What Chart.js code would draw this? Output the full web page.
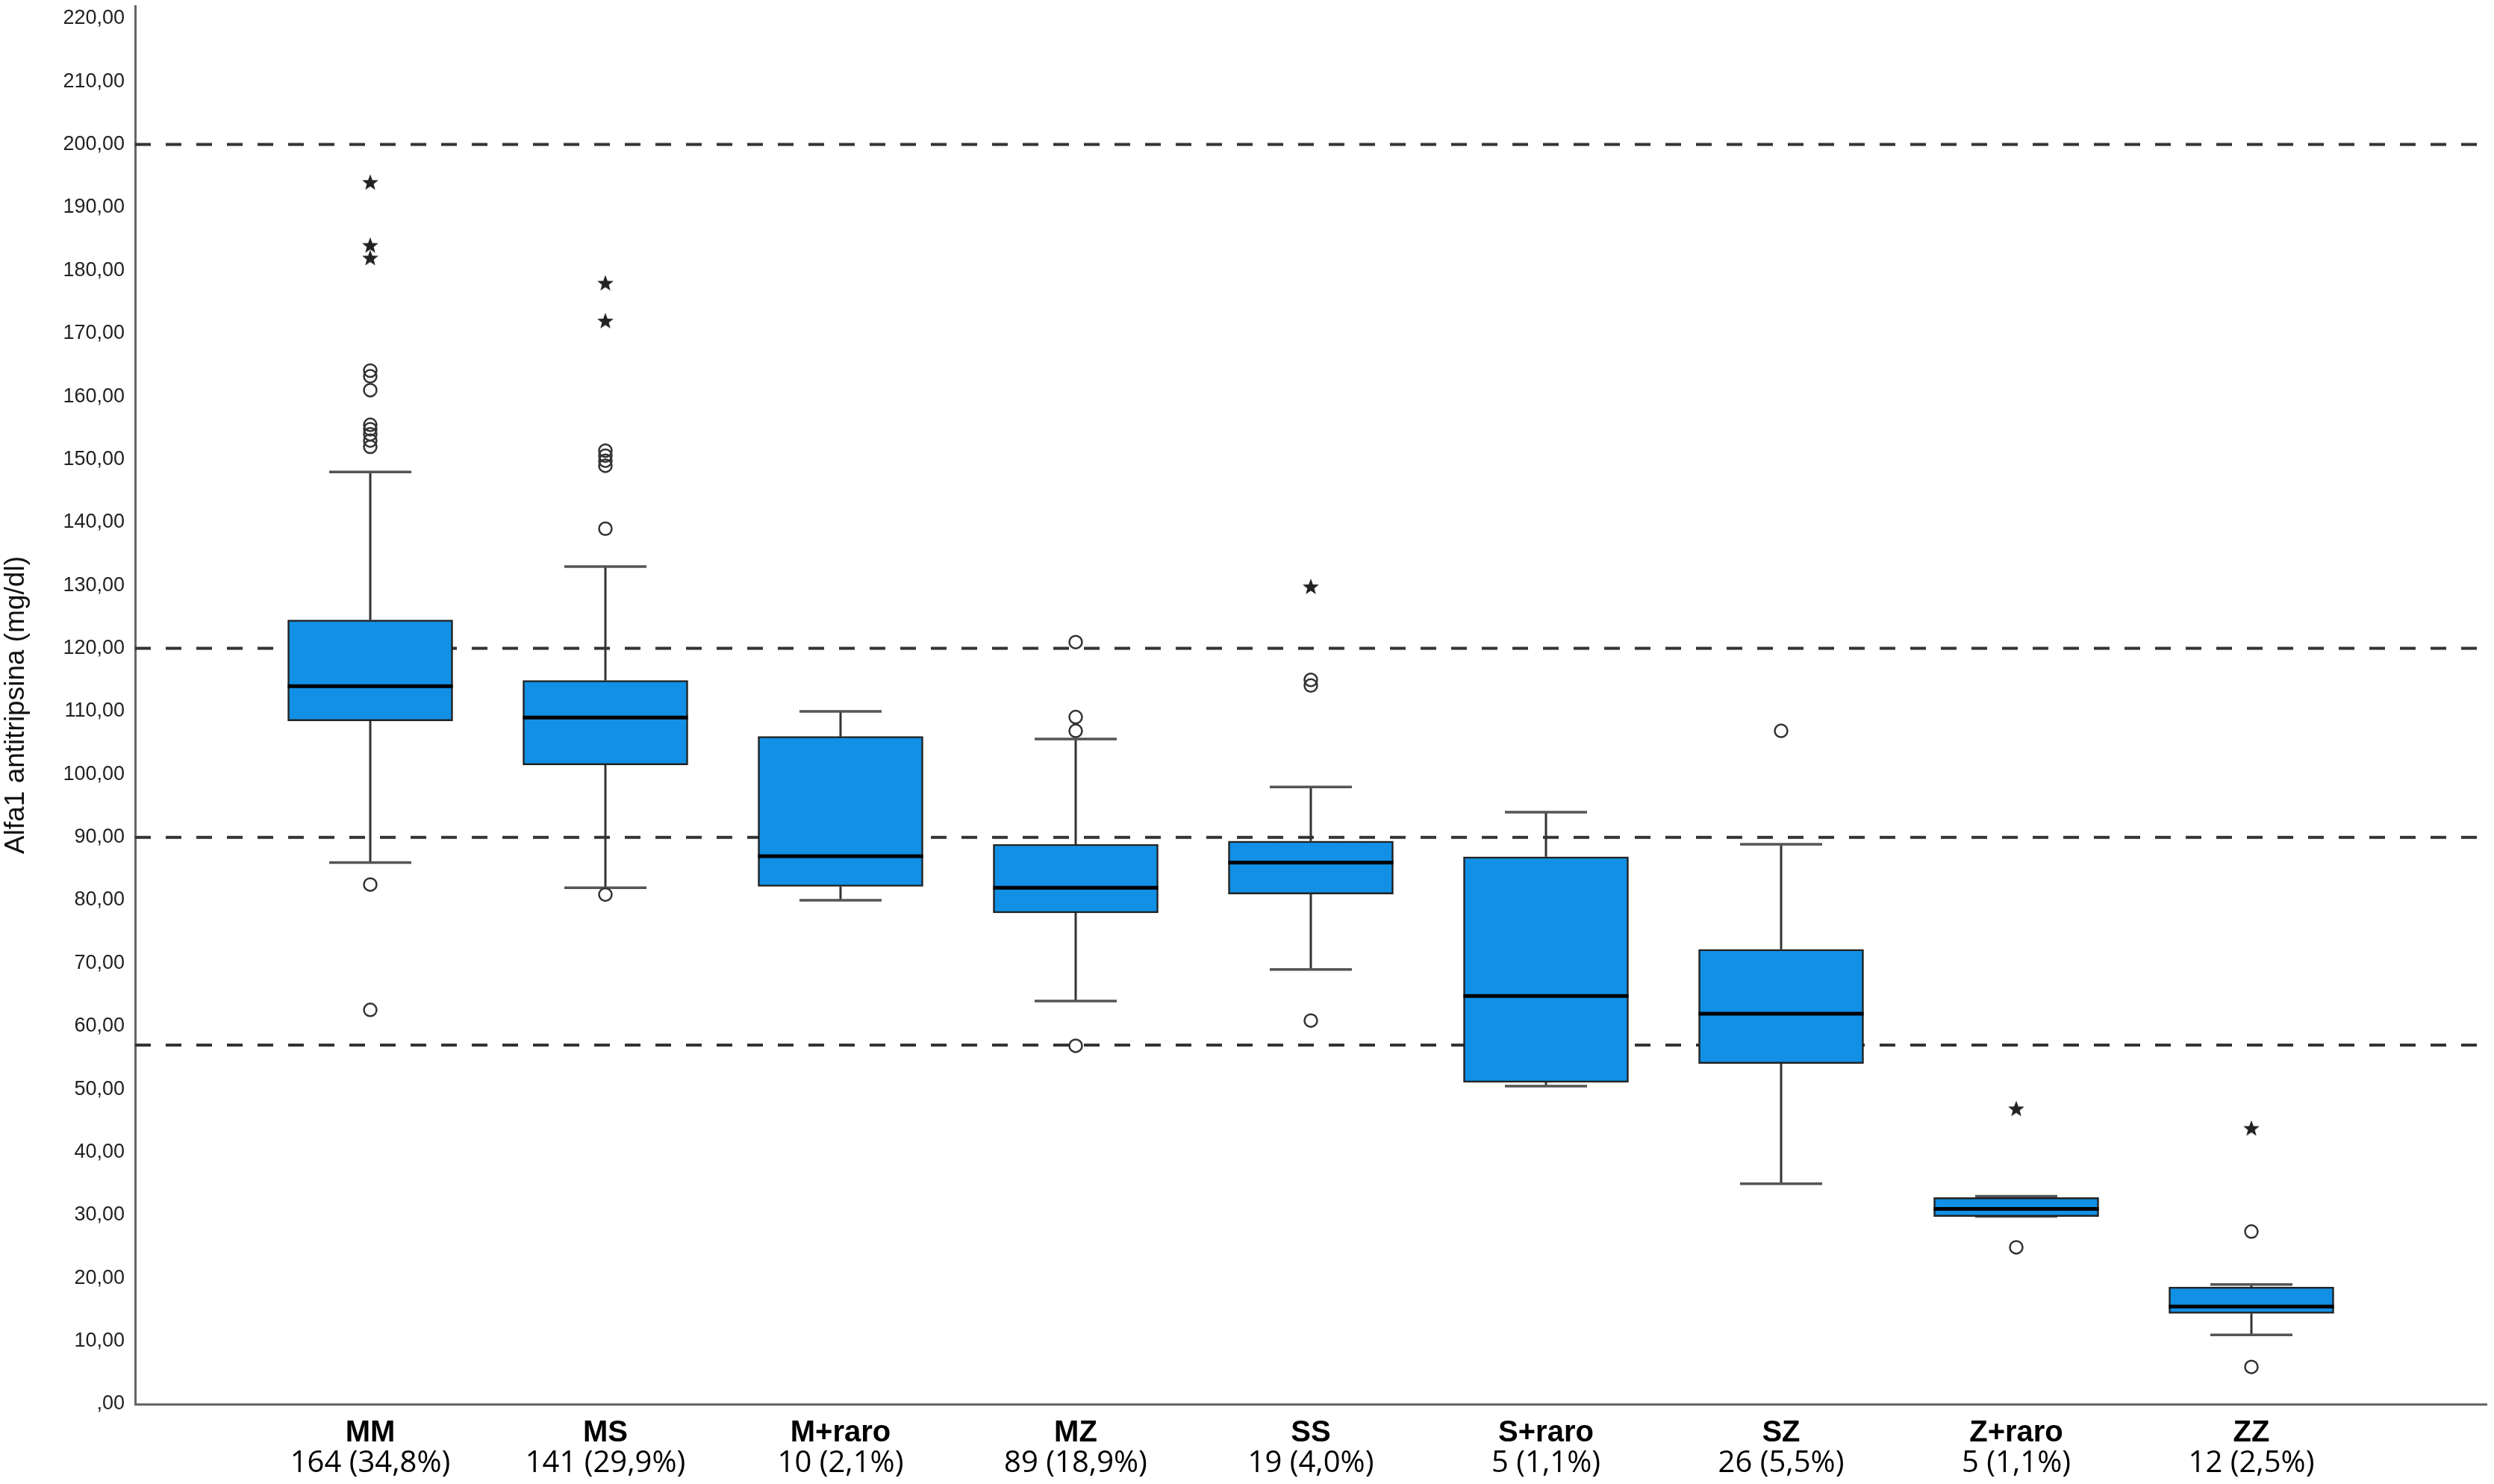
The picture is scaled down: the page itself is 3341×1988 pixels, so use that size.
<!DOCTYPE html>
<html>
<head>
<meta charset="utf-8">
<script src="https://cdn.jsdelivr.net/npm/chart.js@4.4.1/dist/chart.umd.min.js"></script>
<style>
  html, body { margin: 0; padding: 0; background: #fff; }
  #wrap { width: 3341px; height: 1988px; position: relative; }
</style>
</head>
<body>
<div id="wrap"><canvas id="c"></canvas></div>
<script>
// ---------------- DATA ----------------
const categories = ['MM', 'MS', 'M+raro', 'MZ', 'SS', 'S+raro', 'SZ', 'Z+raro', 'ZZ'];
const countLabels = ['164 (34,8%)', '141 (29,9%)', '10 (2,1%)', '89 (18,9%)', '19 (4,0%)', '5 (1,1%)', '26 (5,5%)', '5 (1,1%)', '12 (2,5%)'];
const whiskerLow  = [86.0, 82.0, 80.0, 64.0, 69.0, 50.5, 35.0, 29.8, 11.0];
const q1Values    = [108.5, 101.5, 82.2, 78.0, 81.0, 51.1, 54.1, 29.8, 14.4];
const medians     = [114.0, 109.0, 87.0, 82.0, 86.0, 64.8, 62.0, 31.0, 15.5];
const q3Values    = [124.5, 114.9, 106.0, 88.9, 89.4, 86.9, 72.2, 32.8, 18.6];
const whiskerHigh = [148.0, 133.0, 110.0, 105.6, 98.0, 94.0, 88.9, 33.0, 19.0];
const circleOutliers = [
  [164.1, 163.2, 161.0, 155.5, 154.8, 154.0, 153.0, 152.0, 82.5, 62.6],
  [151.4, 150.6, 149.8, 149.0, 139.0, 80.9],
  [],
  [121.0, 109.1, 106.9, 56.9],
  [115.0, 114.1, 60.9],
  [],
  [106.9],
  [24.9],
  [27.4, 5.9]
];
const extremeOutliers = [
  [194.0, 184.0, 182.0],
  [178.0, 172.0],
  [],
  [],
  [129.8],
  [],
  [],
  [46.9],
  [43.8]
];
const referenceLines = [57, 90, 120, 200];
const yTickLabels = [',00', '10,00', '20,00', '30,00', '40,00', '50,00', '60,00', '70,00', '80,00', '90,00',
  '100,00', '110,00', '120,00', '130,00', '140,00', '150,00', '160,00', '170,00', '180,00', '190,00',
  '200,00', '210,00', '220,00'];
const yTitle = 'Alfa1 antitripsina (mg/dl)';

// ---------------- BUILD ----------------
const nameTicks = [''].concat(categories, ['']);
const countTicks = [''].concat(countLabels, ['']);
const pos = i => i + 1;

const boxData = categories.map((c, i) => ({ x: pos(i), y: [q1Values[i], q3Values[i]] }));
const medianData = categories.map((c, i) => ({ x: pos(i), y: medians[i] }));
const capData = [];
const whiskerData = [];
categories.forEach((c, i) => {
  capData.push({ x: pos(i), y: whiskerHigh[i] }, { x: pos(i), y: whiskerLow[i] });
  whiskerData.push(
    { x: pos(i), y: whiskerHigh[i] }, { x: pos(i), y: q3Values[i] }, { x: pos(i), y: null },
    { x: pos(i), y: q1Values[i] }, { x: pos(i), y: whiskerLow[i] }, { x: pos(i), y: null }
  );
});
const circleData = [];
circleOutliers.forEach((arr, i) => arr.forEach(v => circleData.push({ x: pos(i), y: v })));
const starData = [];
extremeOutliers.forEach((arr, i) => arr.forEach(v => starData.push({ x: pos(i), y: v })));

// filled five-point star marker
const starImg = document.createElement('canvas');
starImg.width = 26; starImg.height = 26;
(function () {
  const g = starImg.getContext('2d');
  g.fillStyle = '#222';
  g.beginPath();
  for (let k = 0; k < 10; k++) {
    const r = (k % 2 === 0) ? 11.5 : 4.8;
    const a = -Math.PI / 2 + k * Math.PI / 5;
    g.lineTo(13 + r * Math.cos(a), 13.8 + r * Math.sin(a));
  }
  g.closePath();
  g.fill();
})();

const refDatasets = referenceLines.map(v => ({
  type: 'line',
  data: [{ x: 0, y: v }, { x: 10, y: v }],
  borderColor: '#333',
  borderWidth: 4,
  borderDash: [21, 20],
  pointRadius: 0,
  fill: false,
  order: 6
}));

const datasets = refDatasets.concat([
  {
    type: 'line',
    data: whiskerData,
    borderColor: '#333',
    borderWidth: 3,
    pointRadius: 0,
    spanGaps: false,
    fill: false,
    order: 5
  },
  {
    type: 'scatter',
    data: capData,
    pointStyle: 'line',
    pointRadius: 55,
    pointBorderColor: '#555',
    pointBorderWidth: 3.5,
    order: 4
  },
  {
    type: 'bar',
    data: boxData,
    backgroundColor: '#1190E5',
    borderColor: '#222',
    borderWidth: 2.5,
    borderSkipped: false,
    barThickness: 221,
    grouped: false,
    order: 2
  },
  {
    type: 'scatter',
    data: medianData,
    pointStyle: 'line',
    pointRadius: 110.5,
    pointBorderColor: '#000',
    pointBorderWidth: 5,
    order: 1
  },
  {
    type: 'scatter',
    data: circleData,
    pointStyle: 'circle',
    pointRadius: 8.5,
    pointBorderColor: '#333',
    pointBorderWidth: 2.5,
    pointBackgroundColor: 'rgba(255,255,255,0)',
    order: 0
  },
  {
    type: 'scatter',
    data: starData,
    pointStyle: starImg,
    pointRadius: 12,
    order: 0
  }
]);

new Chart(document.getElementById('c'), {
  type: 'bar',
  data: { datasets },
  options: {
    responsive: true,
    maintainAspectRatio: false,
    devicePixelRatio: 1,
    animation: false,
    events: [],
    layout: { autoPadding: false, padding: { top: 8, right: 10, left: 0, bottom: 0 } },
    plugins: { legend: { display: false }, tooltip: { enabled: false } },
    scales: {
      x: {
        type: 'linear',
        position: 'bottom',
        min: 0, max: 10,
        offset: false,
        weight: 0,
        grid: { display: false, drawTicks: false },
        border: { display: true, color: '#666', width: 3 },
        ticks: {
          stepSize: 1, autoSkip: false, maxRotation: 0, minRotation: 0,
          padding: 15,
          color: '#000',
          font: { family: "'Liberation Sans', Arial, sans-serif", size: 40, weight: 'bold' },
          callback: (v, i) => nameTicks[i]
        },
        afterFit: s => { s.height = 56; s.paddingLeft = 0; s.paddingRight = 0; }
      },
      x2: {
        type: 'linear',
        position: 'bottom',
        min: 0, max: 10,
        offset: false,
        weight: 1,
        grid: { display: false, drawTicks: false },
        border: { display: false },
        ticks: {
          stepSize: 1, autoSkip: false, maxRotation: 0, minRotation: 0,
          padding: 0,
          color: '#000',
          font: { family: "'Open Sans', sans-serif", size: 40 },
          callback: (v, i) => countTicks[i]
        },
        afterFit: s => { s.height = 51; s.paddingLeft = 0; s.paddingRight = 0; }
      },
      y: {
        type: 'linear',
        min: 0, max: 222,
        grid: { display: false, drawTicks: false },
        border: { display: true, color: '#666', width: 3 },
        ticks: {
          stepSize: 10, includeBounds: false, autoSkip: false,
          padding: 14,
          color: '#222',
          font: { family: "'Liberation Sans', Arial, sans-serif", size: 27 },
          callback: (v, i) => yTickLabels[i]
        },
        title: {
          display: true,
          text: yTitle,
          color: '#111',
          padding: 0,
          font: { family: "'Liberation Sans', Arial, sans-serif", size: 37 }
        },
        afterFit: s => { s.width = 181; s.paddingTop = 0; s.paddingBottom = 0; }
      }
    }
  }
});
</script>
</body>
</html>
